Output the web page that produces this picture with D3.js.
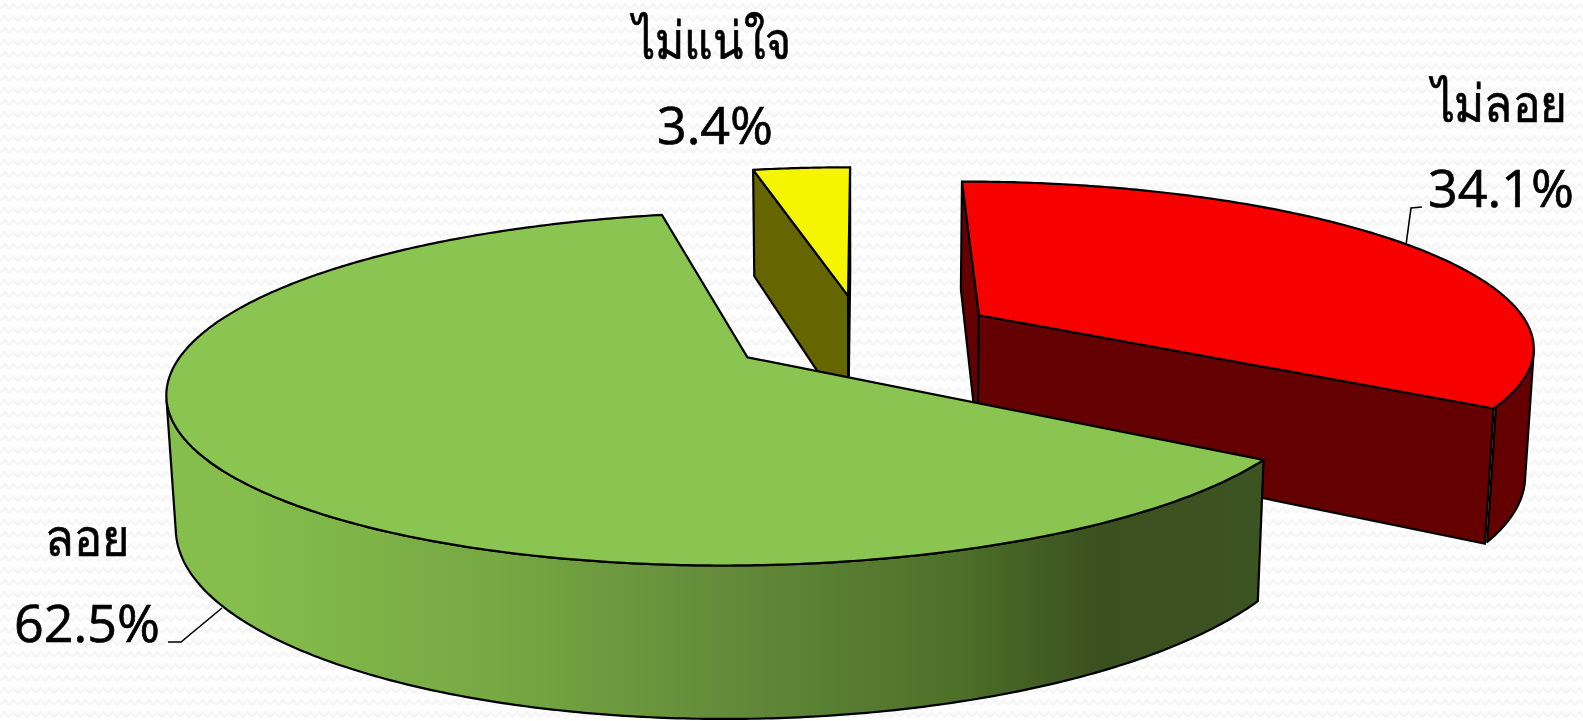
<!DOCTYPE html>
<html><head><meta charset="utf-8">
<script src="https://cdn.jsdelivr.net/npm/d3@7"></script>
<style>html,body{margin:0;padding:0;background:#fff;overflow:hidden}
text{font-family:"Open Sans","Noto Sans",sans-serif;fill:#000;stroke:#000;stroke-width:.7px}</style></head>
<body><svg id="c" width="1583" height="721"></svg>
<script>
const categories=["ไม่ลอย","ลอย","ไม่แน่ใจ"];
const percents=[34.1,62.5,3.4];
const topColors=["#f60000","#8ac451","#f5f500"];
const wallColors=["#640000","url(#wall)","#666600"];
const gradientStops=[[0.06,"#85be4c"],[0.3,"#76a843"],[0.5,"#648c3a"],[0.72,"#4d7029"],[0.85,"#3a501f"],[1,"#3c5322"]];
const labelPos=[[1499,122,1501,207],[87,556,87,642],[712,59,715,144]];
const labelWidths=[135,84,158];
const leaders=[[[1406,245],[1411,208],[1422,207]],[[222,608],[181,642],[168,642]]];

const W=1583,H=721,px=862,py=334,elev=17.1*Math.PI/180,F=3050,R=554,T=134,explode=136;
const svg=d3.select("#c");
const defs=svg.append("defs");
const pat=defs.append("pattern").attr("id","bg").attr("patternUnits","userSpaceOnUse").attr("width",18).attr("height",12);
pat.append("path").attr("d","M0 9L4.5 4L9 9L13.5 4L18 9").attr("fill","none").attr("stroke","#f5f5f5").attr("stroke-width",2.5);
const lg=defs.append("linearGradient").attr("id","wall").attr("gradientUnits","userSpaceOnUse")
 .attr("x1",170).attr("x2",1265).attr("y1",0).attr("y2",0);
gradientStops.forEach(s=>lg.append("stop").attr("offset",s[0]).attr("stop-color",s[1]));
svg.append("rect").attr("width",W).attr("height",H).attr("fill","#fff");
svg.append("rect").attr("width",W).attr("height",H).attr("fill","url(#bg)");

const sinE=Math.sin(elev),cosE=Math.cos(elev);
function project(u,v,z){const d=F-v*cosE-z*sinE,s=F/d;return [px+u*s,py+(v*sinE-z*cosE)*s];}
const line=d3.line();
const arcs=d3.pie().sort(null).startAngle(0).endAngle(2*Math.PI)(percents);
const order=[0,2,1];
const area=p=>d3.polygonArea(p);
order.forEach(i=>{
 const a=arcs[i],mid=(a.startAngle+a.endAngle)/2;
 const ox=Math.sin(mid)*explode,oy=-Math.cos(mid)*explode;
 const at=(th,z)=>project(ox+R*Math.sin(th),oy-R*Math.cos(th),z);
 const apex=z=>project(ox,oy,z);
 const g=svg.append("g");
 const n=Math.ceil((a.endAngle-a.startAngle)/0.01);
 const ths=d3.range(n+1).map(k=>a.startAngle+(a.endAngle-a.startAngle)*k/n);
 const face=(pts,fill)=>g.append("path").attr("d",line(pts)+"Z").attr("fill",fill).attr("stroke","#000").attr("stroke-width",2.2).attr("stroke-linejoin","round");
 const q1=[apex(0),at(a.startAngle,0),at(a.startAngle,-T),apex(-T)];
 if(area(q1)>0) face(q1,wallColors[i]);
 const q2=[apex(0),apex(-T),at(a.endAngle,-T),at(a.endAngle,0)];
 if(area(q2)>0) face(q2,wallColors[i]);
 const vis=ths.filter((t,k)=>{ if(k===n) return false;
   const t2=ths[k+1]; return area([at(t,0),at(t2,0),at(t2,-T),at(t,-T)])>0;});
 if(vis.length){
   const top=vis.map(t=>at(t,0)),bot=vis.map(t=>at(t,-T)).reverse();
   face(top.concat(bot),wallColors[i]);
 }
 face([apex(0)].concat(ths.map(t=>at(t,0))),topColors[i]);
});
leaders.forEach(l=>svg.append("path").attr("d",line(l)).attr("fill","none").attr("stroke","#000").attr("stroke-width",1.6));
categories.forEach((c,i)=>{
 const p=labelPos[i];
 svg.append("text").attr("x",p[0]).attr("y",p[1]).attr("text-anchor","middle").attr("font-size",52)
   .attr("textLength",labelWidths[i]).attr("lengthAdjust","spacingAndGlyphs").text(c);
 svg.append("text").attr("x",p[2]).attr("y",p[3]).attr("text-anchor","middle").attr("font-size",52).text(d3.format(".1f")(percents[i])+"%");
});
</script></body></html>
